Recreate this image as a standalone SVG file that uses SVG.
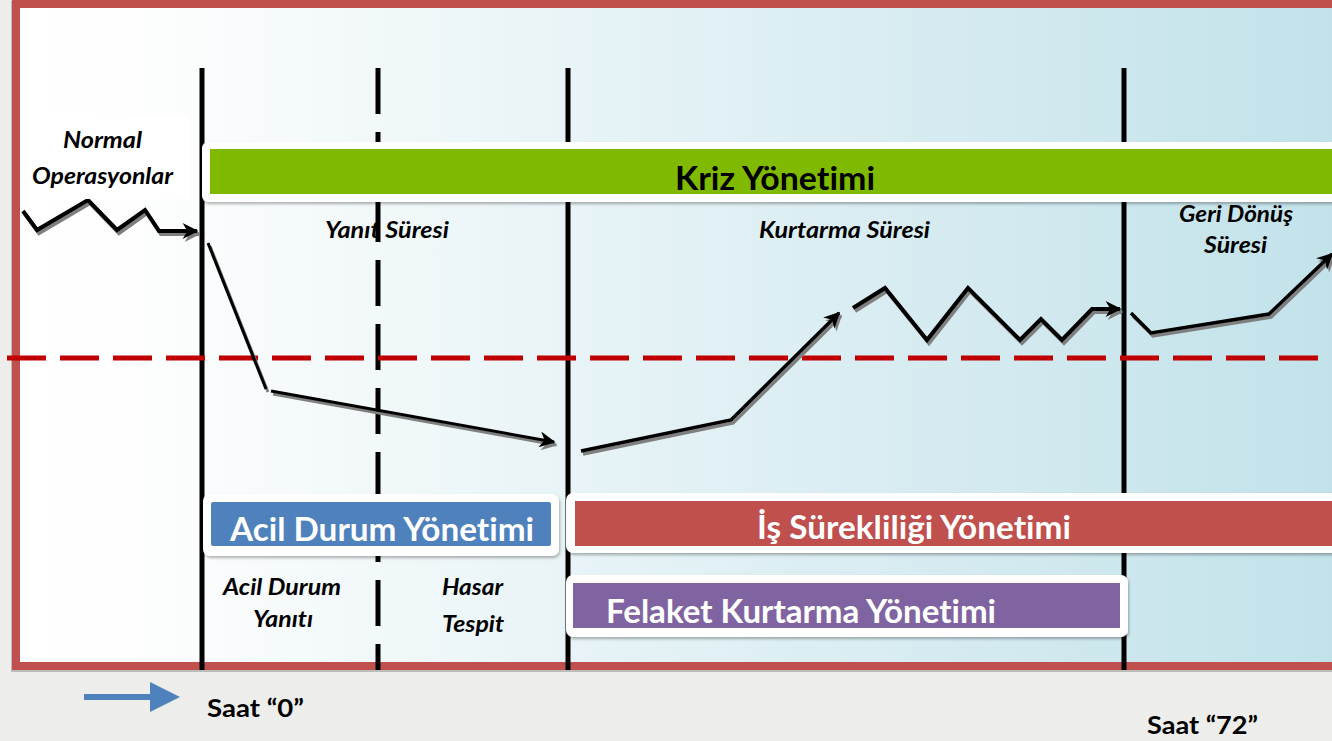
<svg xmlns="http://www.w3.org/2000/svg" width="1332" height="741" viewBox="0 0 1332 741">
<defs>
<linearGradient id="bg" x1="20" y1="0" x2="1332" y2="0" gradientUnits="userSpaceOnUse">
<stop offset="0" stop-color="#FFFFFF"/>
<stop offset="0.08" stop-color="#FEFEFE"/>
<stop offset="1" stop-color="#C2E2EA"/>
</linearGradient>
<filter id="sh" x="-5%" y="-20%" width="110%" height="150%">
<feDropShadow dx="1" dy="2" stdDeviation="1.5" flood-color="#000" flood-opacity="0.3"/>
</filter>
<marker id="ah" viewBox="0 0 10 10" refX="9" refY="5" markerWidth="18" markerHeight="16" markerUnits="userSpaceOnUse" orient="auto">
<path d="M0,0 L10,5 L0,10 L3,5 z" fill="#000"/>
</marker>
<marker id="ahg" viewBox="0 0 10 10" refX="9" refY="5" markerWidth="18" markerHeight="16" markerUnits="userSpaceOnUse" orient="auto">
<path d="M0,0 L10,5 L0,10 L3,5 z" fill="#7F7F7F"/>
</marker>
<style>
text{font-variant-ligatures:none;font-feature-settings:"liga" 0,"dlig" 0}
.lbl{font-family:Lato,"Open Sans","Liberation Sans",sans-serif;font-weight:bold;font-style:italic;font-size:22px;fill:#000}
.big{font-family:Lato,"Open Sans","Liberation Sans",sans-serif;font-weight:bold;font-size:32px}
.saat{font-family:Lato,"Open Sans","Liberation Sans",sans-serif;font-weight:bold;font-size:24px;fill:#000}
.vl{stroke:#000;stroke-width:5;fill:none}
.ln{fill:none;stroke:#000;stroke-linejoin:miter}
.sd{fill:none;stroke:#7F7F7F;stroke-linejoin:miter}
.wbox{fill:#FFFFFF;filter:url(#sh)}
</style>
</defs>
<rect x="0" y="0" width="1332" height="741" fill="#EDEDEB"/>
<g id="frame">
<rect x="11" y="1" width="1340" height="671" fill="#9A9A9A" opacity="0.6"/>
<rect x="16" y="4" width="1340" height="662" fill="url(#bg)" stroke="#C0504D" stroke-width="8"/>
</g>
<g id="timeline-lines">
<line class="vl" x1="202" y1="68" x2="202" y2="670"/>
<line class="vl" x1="378" y1="68" x2="378" y2="670" stroke-dasharray="46 18"/>
<line class="vl" x1="568" y1="68" x2="568" y2="670"/>
<line class="vl" x1="1124" y1="68" x2="1124" y2="670"/>
</g>
<g id="threshold">
<line x1="7" y1="358" x2="1332" y2="358" stroke="#C00000" stroke-width="5" stroke-dasharray="39 14"/>
</g>
<g id="connectors">
<g transform="translate(2,3)">
<polyline class="sd" stroke-width="4" points="23,211 37,230 88,200 117,230 145,210 159,231 197,231" marker-end="url(#ahg)"/>
<polyline class="sd" stroke-width="3" points="208,243 266,389"/>
<polyline class="sd" stroke-width="3" points="271,391 554,442" marker-end="url(#ahg)"/>
<polyline class="sd" stroke-width="3.5" points="581,451 731,420 839,313" marker-end="url(#ahg)"/>
<polyline class="sd" stroke-width="4" points="853,308 885,288 927,340 968,288 1020,340 1041,319 1062,340 1092,309 1120,309" marker-end="url(#ahg)"/>
<polyline class="sd" stroke-width="3.5" points="1131,313 1151,333 1269,314 1332,254" marker-end="url(#ahg)"/>
</g>
<polyline class="ln" stroke-width="4" points="23,211 37,230 88,200 117,230 145,210 159,231 197,231" marker-end="url(#ah)"/>
<polyline class="ln" stroke-width="3" points="208,243 266,389"/>
<polyline class="ln" stroke-width="3" points="271,391 554,442" marker-end="url(#ah)"/>
<polyline class="ln" stroke-width="3.5" points="581,451 731,420 839,313" marker-end="url(#ah)"/>
<polyline class="ln" stroke-width="4" points="853,308 885,288 927,340 968,288 1020,340 1041,319 1062,340 1092,309 1120,309" marker-end="url(#ah)"/>
<polyline class="ln" stroke-width="3.5" points="1131,313 1151,333 1269,314 1332,254" marker-end="url(#ah)"/>
</g>
<g id="normal-operasyonlar">
<rect x="20" y="115" width="169" height="84" fill="#FFFFFF"/>
<text class="lbl" x="63" y="148" textLength="79" lengthAdjust="spacingAndGlyphs">Normal</text>
<text class="lbl" x="32" y="184" textLength="141" lengthAdjust="spacingAndGlyphs">Operasyonlar</text>
</g>
<g id="kriz-yonetimi">
<rect class="wbox" x="202" y="142" width="1150" height="60" rx="6"/>
<rect x="210" y="149" width="1140" height="45" fill="#7FBA00"/>
<text class="big" x="675" y="190" fill="#000" textLength="200" lengthAdjust="spacingAndGlyphs">Kriz Yönetimi</text>
</g>
<g id="yanit-suresi">
<text class="lbl" x="325" y="238" textLength="124" lengthAdjust="spacingAndGlyphs">Yanıt Süresi</text>
</g>
<g id="kurtarma-suresi">
<text class="lbl" x="759" y="238" textLength="171" lengthAdjust="spacingAndGlyphs">Kurtarma Süresi</text>
</g>
<g id="geri-donus-suresi">
<text class="lbl" x="1179" y="222" textLength="114" lengthAdjust="spacingAndGlyphs">Geri Dönüş</text>
<text class="lbl" x="1204" y="253" textLength="63" lengthAdjust="spacingAndGlyphs">Süresi</text>
</g>
<g id="acil-durum-yonetimi">
<rect class="wbox" x="203" y="494" width="356" height="62" rx="7"/>
<rect x="211" y="502" width="340" height="44" rx="2" fill="#4F81BD"/>
<text class="big" x="230" y="541" fill="#FFFFFF" textLength="304" lengthAdjust="spacingAndGlyphs">Acil Durum Yönetimi</text>
</g>
<g id="is-surekliligi-yonetimi">
<rect class="wbox" x="566" y="493" width="790" height="60" rx="7"/>
<rect x="575" y="501" width="770" height="45" fill="#C0504D"/>
<text class="big" x="757" y="539" fill="#FFFFFF" textLength="314" lengthAdjust="spacingAndGlyphs">İş Sürekliliği Yönetimi</text>
</g>
<g id="felaket-kurtarma-yonetimi">
<rect class="wbox" x="566" y="575" width="562" height="62" rx="7"/>
<rect x="573" y="583" width="547" height="45" fill="#8064A2"/>
<text class="big" x="606" y="623" fill="#FFFFFF" textLength="390" lengthAdjust="spacingAndGlyphs">Felaket Kurtarma Yönetimi</text>
</g>
<g id="acil-durum-yaniti">
<text class="lbl" x="223" y="595" textLength="118" lengthAdjust="spacingAndGlyphs">Acil Durum</text>
<text class="lbl" x="253" y="627" textLength="60" lengthAdjust="spacingAndGlyphs">Yanıtı</text>
</g>
<g id="hasar-tespit">
<text class="lbl" x="442" y="595" textLength="61" lengthAdjust="spacingAndGlyphs">Hasar</text>
<text class="lbl" x="442" y="632" textLength="62" lengthAdjust="spacingAndGlyphs">Tespit</text>
</g>
<g id="saat-0">
<line x1="84" y1="697" x2="152" y2="697" stroke="#4F81BD" stroke-width="6"/>
<polygon points="150,682 180,697 150,712" fill="#4F81BD"/>
<text class="saat" x="207" y="717" textLength="97" lengthAdjust="spacingAndGlyphs">Saat “0”</text>
</g>
<g id="saat-72">
<text class="saat" x="1147" y="734" textLength="111" lengthAdjust="spacingAndGlyphs">Saat “72”</text>
</g>
</svg>
